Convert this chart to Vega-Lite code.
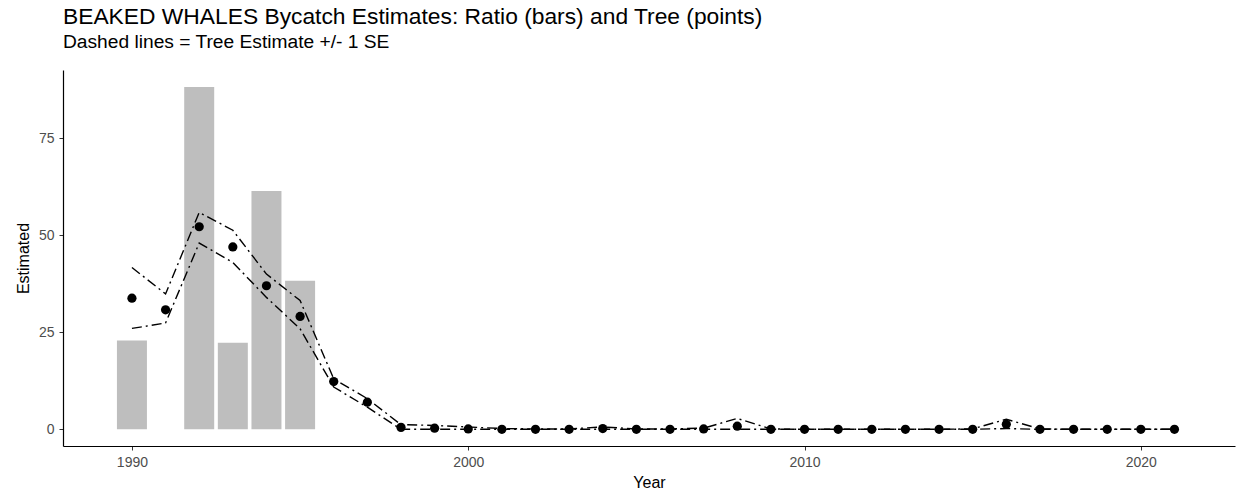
{
  "$schema": "https://vega.github.io/schema/vega-lite/v6.json",
  "autosize": {"type": "none"},
  "width": 1172,
  "height": 376,
  "padding": {"left": 63, "top": 70, "right": 10, "bottom": 44},
  "background": "white",
  "title": {
    "text": "BEAKED WHALES Bycatch Estimates: Ratio (bars) and Tree (points)",
    "subtitle": "Dashed lines = Tree Estimate +/- 1 SE",
    "anchor": "start",
    "frame": "group",
    "offset": 18,
    "font": "Liberation Sans",
    "fontSize": 22.8,
    "fontWeight": "normal",
    "color": "black",
    "subtitleFont": "Liberation Sans",
    "subtitleFontSize": 19.2,
    "subtitleColor": "black",
    "subtitlePadding": 4
  },
  "config": {
    "view": {"stroke": null},
    "axis": {
      "grid": false,
      "domainColor": "black",
      "domainWidth": 1.2,
      "tickColor": "#333333",
      "tickWidth": 1,
      "tickSize": 4,
      "labelFont": "Liberation Sans",
      "labelFontSize": 14,
      "labelColor": "#4d4d4d",
      "labelPadding": 5,
      "titleFont": "Liberation Sans",
      "titleFontSize": 16,
      "titleFontWeight": "normal",
      "titleColor": "black"
    }
  },
  "data": {
    "values": [
      {"Year": 1990, "Ratio": 22.9, "Tree": 33.8, "Upper": 41.7, "Lower": 26.0},
      {"Year": 1991, "Ratio": null, "Tree": 30.8, "Upper": 34.9, "Lower": 27.4},
      {"Year": 1992, "Ratio": 88.2, "Tree": 52.2, "Upper": 55.9, "Lower": 48.0},
      {"Year": 1993, "Ratio": 22.3, "Tree": 47.0, "Upper": 51.3, "Lower": 43.0},
      {"Year": 1994, "Ratio": 61.4, "Tree": 37.0, "Upper": 40.0, "Lower": 34.0},
      {"Year": 1995, "Ratio": 38.3, "Tree": 29.1, "Upper": 33.2, "Lower": 25.9},
      {"Year": 1996, "Ratio": null, "Tree": 12.3, "Upper": 13.0, "Lower": 10.9},
      {"Year": 1997, "Ratio": null, "Tree": 7.0, "Upper": 7.9, "Lower": 5.7},
      {"Year": 1998, "Ratio": null, "Tree": 0.5, "Upper": 1.2, "Lower": 0.0},
      {"Year": 1999, "Ratio": null, "Tree": 0.3, "Upper": 1.0, "Lower": 0.0},
      {"Year": 2000, "Ratio": null, "Tree": 0.1, "Upper": 0.6, "Lower": 0.0},
      {"Year": 2001, "Ratio": null, "Tree": 0.0, "Upper": 0.2, "Lower": 0.0},
      {"Year": 2002, "Ratio": null, "Tree": 0.0, "Upper": 0.1, "Lower": 0.0},
      {"Year": 2003, "Ratio": null, "Tree": 0.0, "Upper": 0.1, "Lower": 0.0},
      {"Year": 2004, "Ratio": null, "Tree": 0.2, "Upper": 0.6, "Lower": 0.0},
      {"Year": 2005, "Ratio": null, "Tree": 0.0, "Upper": 0.1, "Lower": 0.0},
      {"Year": 2006, "Ratio": null, "Tree": 0.0, "Upper": 0.1, "Lower": 0.0},
      {"Year": 2007, "Ratio": null, "Tree": 0.1, "Upper": 0.3, "Lower": 0.0},
      {"Year": 2008, "Ratio": null, "Tree": 0.8, "Upper": 2.8, "Lower": 0.0},
      {"Year": 2009, "Ratio": null, "Tree": 0.0, "Upper": 0.1, "Lower": 0.0},
      {"Year": 2010, "Ratio": null, "Tree": 0.0, "Upper": 0.0, "Lower": 0.0},
      {"Year": 2011, "Ratio": null, "Tree": 0.0, "Upper": 0.0, "Lower": 0.0},
      {"Year": 2012, "Ratio": null, "Tree": 0.0, "Upper": 0.0, "Lower": 0.0},
      {"Year": 2013, "Ratio": null, "Tree": 0.0, "Upper": 0.0, "Lower": 0.0},
      {"Year": 2014, "Ratio": null, "Tree": 0.0, "Upper": 0.0, "Lower": 0.0},
      {"Year": 2015, "Ratio": null, "Tree": 0.0, "Upper": 0.1, "Lower": 0.0},
      {"Year": 2016, "Ratio": null, "Tree": 1.3, "Upper": 2.6, "Lower": 0.2},
      {"Year": 2017, "Ratio": null, "Tree": 0.0, "Upper": 0.1, "Lower": 0.0},
      {"Year": 2018, "Ratio": null, "Tree": 0.0, "Upper": 0.0, "Lower": 0.0},
      {"Year": 2019, "Ratio": null, "Tree": 0.0, "Upper": 0.0, "Lower": 0.0},
      {"Year": 2020, "Ratio": null, "Tree": 0.0, "Upper": 0.0, "Lower": 0.0},
      {"Year": 2021, "Ratio": null, "Tree": 0.0, "Upper": 0.0, "Lower": 0.0}
    ]
  },
  "encoding": {
    "x": {
      "field": "Year",
      "type": "quantitative",
      "scale": {"domain": [1987.95, 2022.8], "nice": false, "zero": false, "padding": 0},
      "axis": {"values": [1990, 2000, 2010, 2020], "format": "d", "title": "Year", "titlePadding": 5}
    }
  },
  "layer": [
    {
      "mark": {"type": "bar", "color": "#bebebe", "width": 30},
      "encoding": {
        "y": {
          "field": "Ratio",
          "type": "quantitative",
          "scale": {"domain": [-4.3, 92.6], "nice": false, "zero": false},
          "axis": {"values": [0, 25, 50, 75], "title": "Estimated", "titlePadding": 7}
        }
      }
    },
    {
      "mark": {"type": "line", "color": "black", "strokeWidth": 1.4, "strokeDash": [10, 4, 2, 4]},
      "encoding": {"y": {"field": "Upper", "type": "quantitative"}}
    },
    {
      "mark": {"type": "line", "color": "black", "strokeWidth": 1.4, "strokeDash": [10, 4, 2, 4]},
      "encoding": {"y": {"field": "Lower", "type": "quantitative"}}
    },
    {
      "mark": {"type": "point", "filled": true, "color": "black", "opacity": 1, "size": 85},
      "encoding": {"y": {"field": "Tree", "type": "quantitative"}}
    }
  ]
}
